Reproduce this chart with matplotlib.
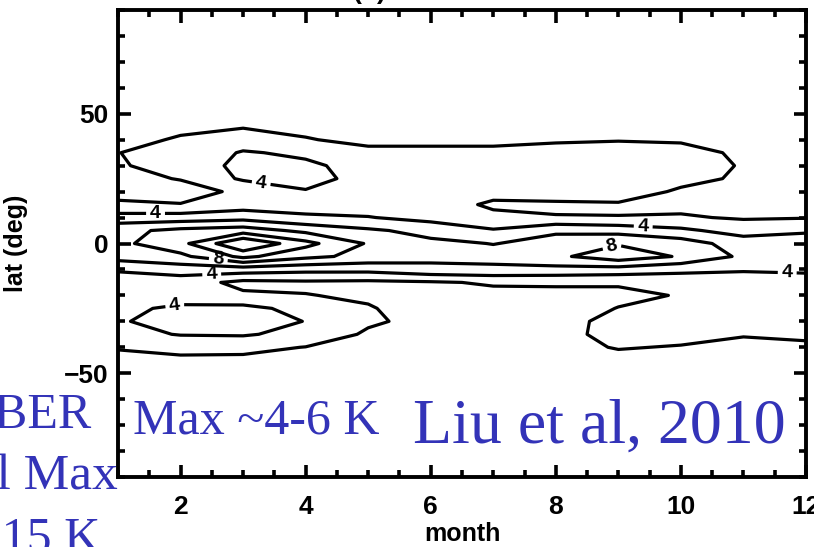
import matplotlib.pyplot as plt
import numpy as np

plt.rcParams['font.family'] = ['Liberation Sans', 'DejaVu Sans']
plt.rcParams['font.weight'] = 'bold'

# zonal temperature amplitude (K) by month and latitude
months = [1, 2, 3, 4, 5, 6, 7, 8, 9, 10, 11, 12]
lats = [-90, -60, -50, -45, -40, -35, -30, -25, -20, -15, -10, -5, 0,
        5, 10, 15, 20, 25, 30, 35, 40, 45, 50, 60, 90]

amp = [
    [0.5, 0.5, 0.5, 0.5, 0.5, 0.5, 0.5, 0.5, 0.5, 0.5, 0.5, 0.5],          # -90
    [1.0, 1.0, 1.0, 1.0, 1.0, 1.0, 1.0, 1.0, 1.0, 1.0, 1.0, 1.0],          # -60
    [1.3, 1.2, 1.2, 1.2, 1.1, 1.1, 1.1, 1.2, 1.2, 1.2, 1.2, 1.2],          # -50
    [1.6, 1.6, 1.6, 1.5, 1.3, 1.3, 1.2, 1.4, 1.5, 1.5, 1.4, 1.4],          # -45
    [2.1, 2.6, 2.5, 1.95, 1.4, 1.4, 1.3, 1.5, 2.1, 1.9, 1.6, 1.7],         # -40
    [3.4, 4.1, 4.2, 3.4, 1.7, 1.4, 1.3, 1.4, 2.6, 2.5, 2.1, 2.3],          # -35
    [3.8, 4.8, 4.9, 3.95, 2.3, 1.4, 1.3, 1.3, 2.6, 2.6, 2.7, 2.5],         # -30
    [3.5, 4.4, 4.6, 3.3, 2.1, 1.4, 1.3, 1.2, 2.05, 2.4, 2.7, 2.6],         # -25
    [3.0, 3.0, 2.3, 2.05, 1.8, 1.5, 1.5, 1.4, 1.6, 2.1, 2.6, 2.7],         # -20
    [2.65, 2.9, 1.5, 1.7, 1.6, 1.8, 2.2, 2.3, 2.2, 2.8, 3.0, 3.0],         # -15
    [4.3, 5.0, 5.0, 4.6, 4.6, 5.4, 5.6, 5.4, 5.2, 4.5, 4.2, 4.4],          # -10
    [6.8, 7.5, 10.5, 8.5, 7.4, 6.6, 6.6, 7.6, 9.2, 7.8, 5.6, 5.3],         # -5
    [7.5, 9.4, 14.0, 10.6, 7.8, 6.4, 5.95, 6.5, 7.8, 7.0, 5.0, 4.8],       # 0
    [7.45, 8.5, 9.0, 7.5, 6.3, 5.4, 4.2, 5.8, 5.3, 4.4, 3.2, 3.8],         # 5
    [4.85, 4.92, 5.3, 4.3, 4.1, 3.3, 2.3, 2.06, 2.03, 2.2, 1.8, 1.9],      # 10
    [2.2, 2.04, 3.0, 3.2, 2.9, 2.6, 1.8, 1.8, 1.85, 1.5, 1.5, 1.5],        # 15
    [1.6, 1.6, 2.2, 3.9, 3.2, 2.7, 2.4, 2.6, 2.7, 1.8, 1.6, 1.6],          # 20
    [1.7, 2.05, 4.3, 4.5, 3.5, 2.8, 2.7, 2.8, 2.9, 2.4, 1.8, 1.7],         # 25
    [1.9, 2.4, 4.7, 4.4, 3.2, 2.7, 2.6, 2.7, 2.8, 2.6, 1.9, 1.75],         # 30
    [1.98, 2.4, 4.2, 3.6, 2.2, 2.2, 2.2, 2.3, 2.4, 2.3, 1.85, 1.7],        # 35
    [1.7, 2.1, 2.8, 2.05, 1.8, 1.8, 1.8, 1.9, 1.95, 1.9, 1.7, 1.6],        # 40
    [1.5, 1.8, 1.9, 1.8, 1.6, 1.6, 1.6, 1.7, 1.8, 1.8, 1.5, 1.5],          # 45
    [1.3, 1.5, 1.6, 1.5, 1.4, 1.4, 1.4, 1.4, 1.5, 1.5, 1.3, 1.3],          # 50
    [1.0, 1.0, 1.2, 1.2, 1.1, 1.1, 1.1, 1.1, 1.1, 1.1, 1.0, 1.0],          # 60
    [0.5, 0.5, 0.5, 0.5, 0.5, 0.5, 0.5, 0.5, 0.5, 0.5, 0.5, 0.5],          # 90
]
plain_levels = [2, 6, 10, 12]
labelled_levels = [4, 8]

fig = plt.figure(figsize=(8.14, 5.47), dpi=100)
ax = fig.add_axes([118/814, 1 - 477/547, 688/814, 467/547])

z = np.array(amp)
ax.contour(months, lats, z, levels=plain_levels, colors='k', linewidths=2.3)
cs = ax.contour(months, lats, z, levels=labelled_levels, colors='k',
                linewidths=2.3)
# hand-placed labels, like the IDL output
spots = [(3.3, 25), (1.6, 12), (2.6, -7), (2.5, -12.8), (1.9, -22.5),
         (9.4, 8), (8.9, -1.5), (11.7, -11)]
texts = ax.clabel(cs, manual=spots, fmt='%d', fontsize=14,
                  inline=True, inline_spacing=4)
for t in texts:
    t.set_fontweight('bold')

ax.set_xlim(1, 12)
ax.set_ylim(-90, 90)
ax.set_xticks(range(2, 13, 2))
ax.set_xticks(np.arange(1, 12.01, 0.5), minor=True)
ax.set_yticks([-50, 0, 50])
ax.set_yticks(range(-90, 91, 10), minor=True)
ax.tick_params(which='both', direction='in', top=True, right=True, width=2.6)
ax.tick_params(which='major', length=9, labelsize=19)
ax.tick_params(which='minor', length=5)
ax.tick_params(axis='x', pad=13)
ax.tick_params(axis='y', pad=7)
for s in ax.spines.values():
    s.set_linewidth(2.8)

ax.set_xlabel('month', fontsize=18, fontweight='bold', labelpad=2)
ax.set_ylabel('lat (deg)', fontsize=18, fontweight='bold')
ax.yaxis.set_label_coords(-0.131, 0.5)

fig.text(370/814, 1 - 4/547, '(b)', fontsize=19, fontweight='bold',
         ha='center', va='bottom')

blue = '#3333b8'
serif = ['Liberation Serif', 'DejaVu Serif']
fig.text(92/814, 1 - 428/547, 'SABER', color=blue, family=serif,
         fontweight='normal', fontsize=36, ha='right', va='baseline')
fig.text(118/814, 1 - 490/547, 'Diurnal Max', color=blue, family=serif,
         fontweight='normal', fontsize=37, ha='right', va='baseline')
fig.text(100/814, 1 - 552/547, '~10-15 K', color=blue, family=serif,
         fontweight='normal', fontsize=36, ha='right', va='baseline')
fig.text(133/814, 1 - 433/547, 'Max ~4-6 K', color=blue, family=serif,
         fontweight='normal', fontsize=36, ha='left', va='baseline')
fig.text(413/814, 1 - 443/547, 'Liu et al, 2010', color=blue, family=serif,
         fontweight='normal', fontsize=46, ha='left', va='baseline')

fig.savefig('out.png', dpi=100)
